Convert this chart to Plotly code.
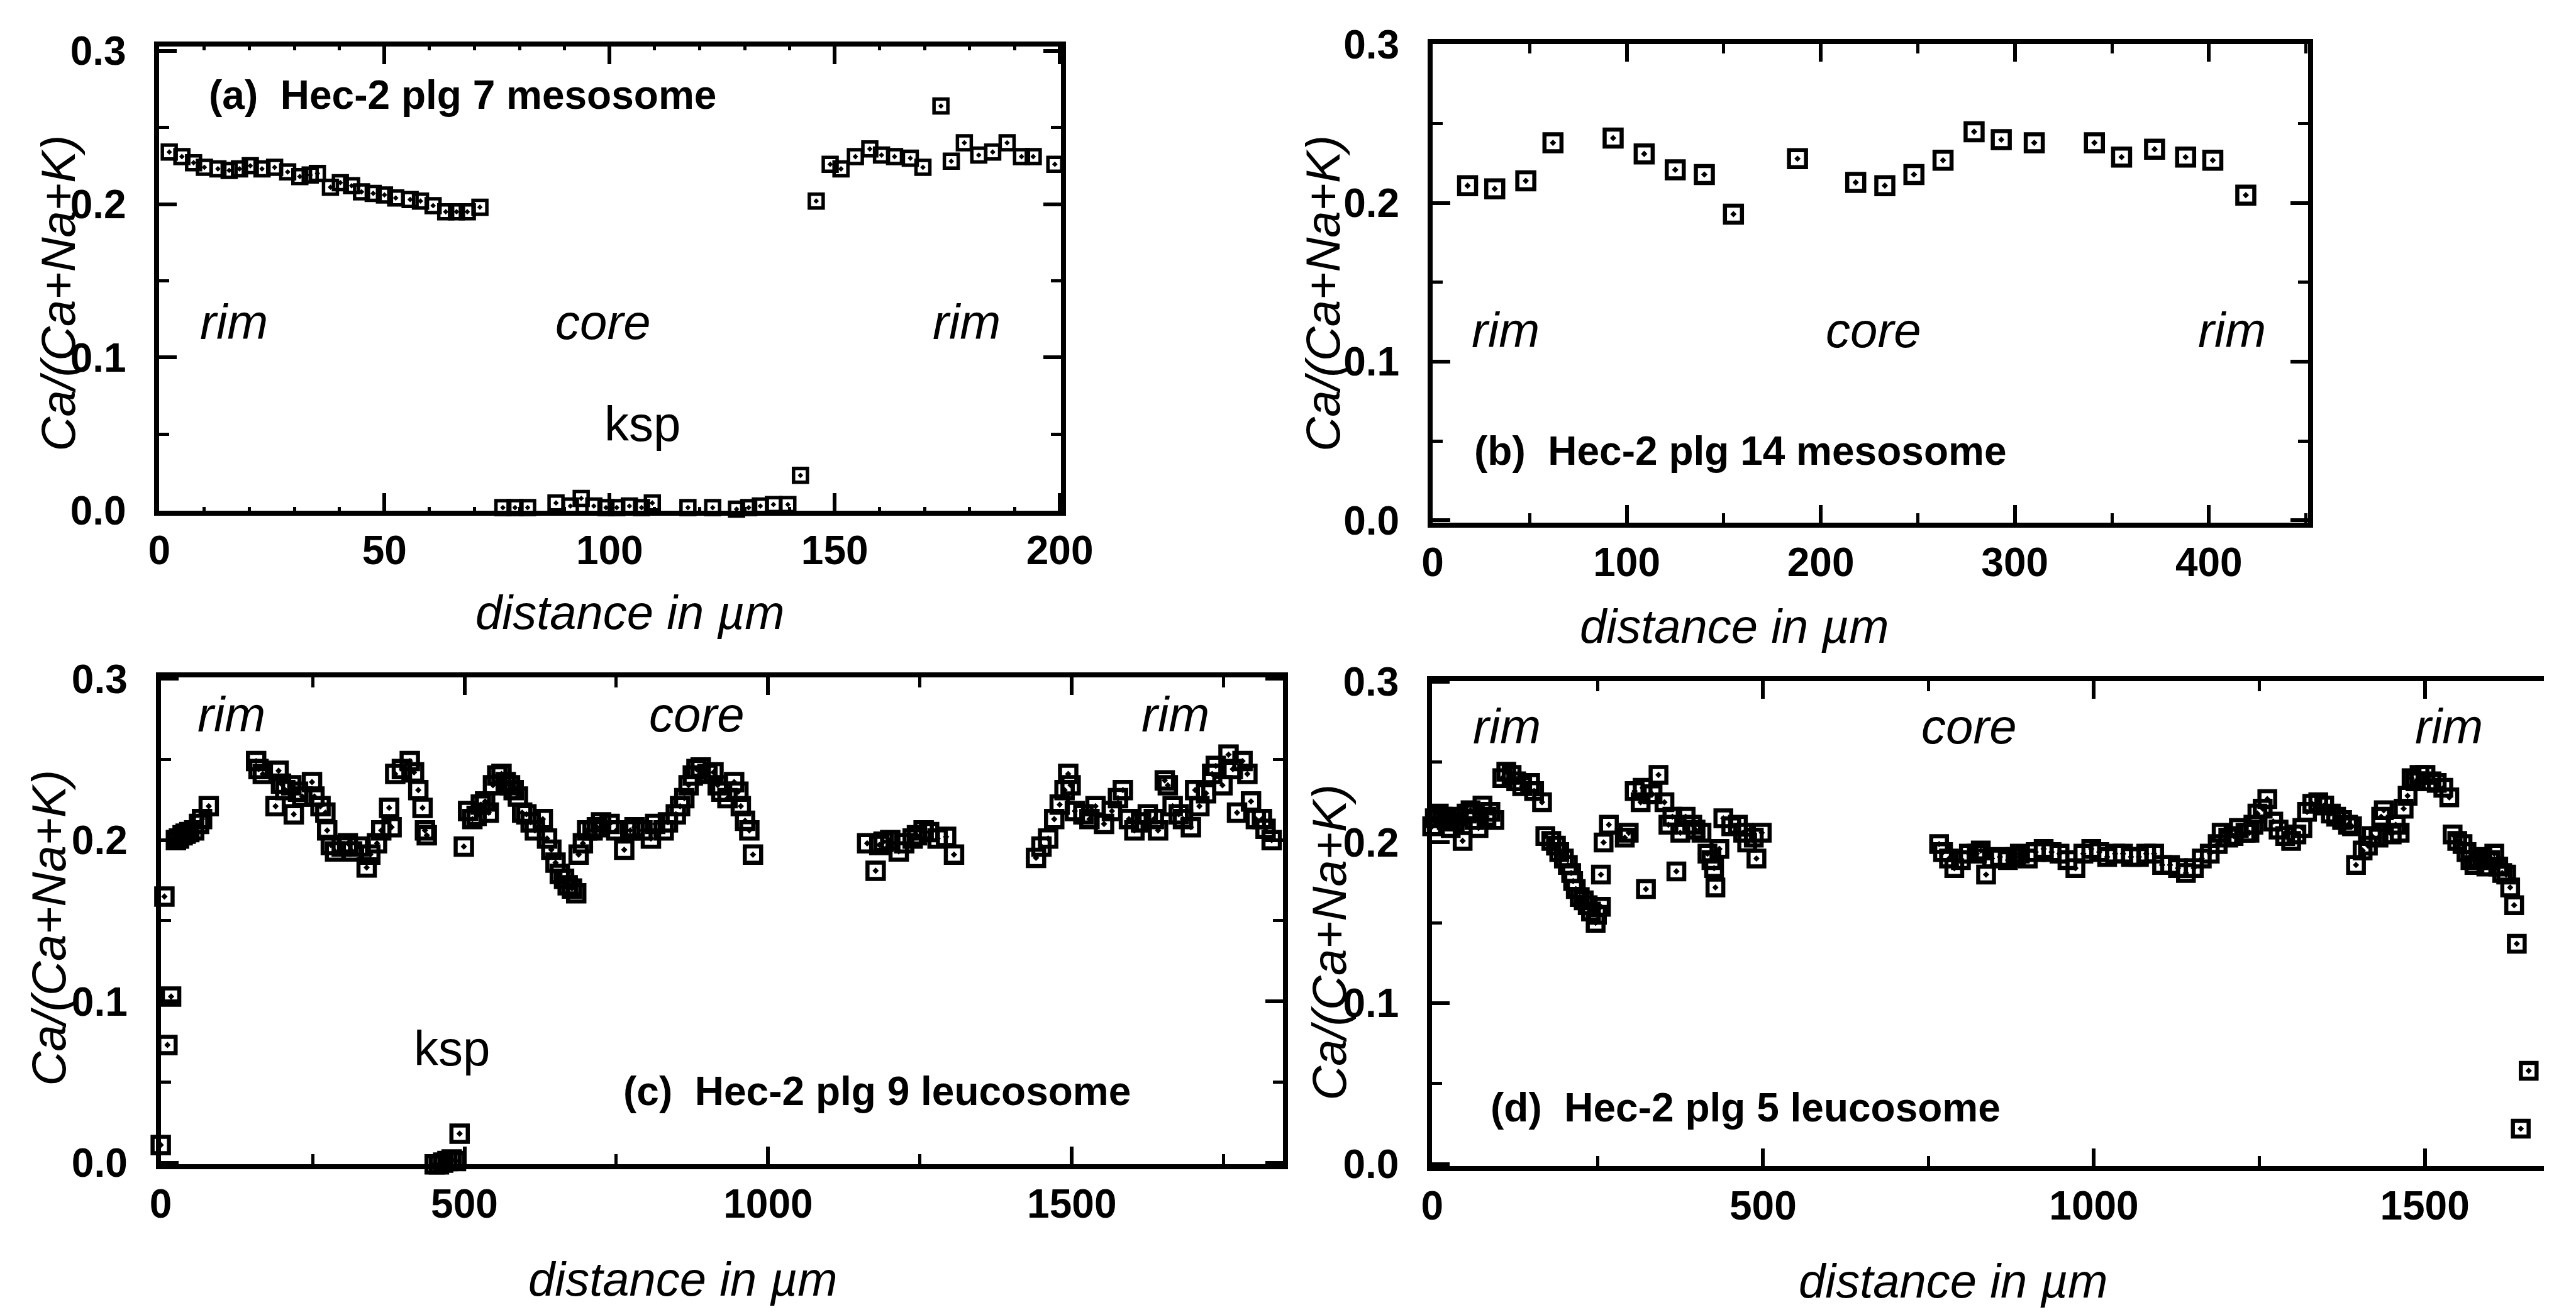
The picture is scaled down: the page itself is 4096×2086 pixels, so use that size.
import plotly.graph_objects as go

# ---------------------------------------------------------------------------
# Plagioclase profiles: Ca/(Ca+Na+K) versus distance (µm)
# ---------------------------------------------------------------------------

# (a) Hec-2 plg 7 mesosome
dist_a = [2.2, 5.0, 7.6, 10.0, 13.0, 15.5, 17.8, 20.2, 22.8, 25.6, 28.5, 31.2, 33.5, 35.1,
          38.0, 40.2, 42.7, 44.9, 47.5, 50.0, 52.5, 55.7, 58.0, 60.8, 63.6, 66.0, 68.4, 71.2,
          76.3, 79.0, 81.8, 85.0, 88.1, 91.3, 93.7, 96.5, 99.2, 101.6, 104.4, 107.1, 109.5,
          111.9, 114.2, 117.4, 120.3, 122.9, 125.3, 128.2, 130.9, 133.5, 136.4, 139.6, 142.4,
          145.9, 149.0, 151.4, 154.6, 157.8, 160.4, 163.3, 166.8, 169.6, 173.6, 175.9, 178.8,
          182.0, 185.1, 188.3, 191.5, 194.1, 198.9]
ratio_a = [0.234, 0.231, 0.227, 0.224, 0.223, 0.222, 0.223, 0.225, 0.223, 0.224, 0.221, 0.218,
           0.219, 0.220, 0.211, 0.214, 0.212, 0.208, 0.207, 0.206, 0.204, 0.203, 0.202, 0.199,
           0.195, 0.195, 0.195, 0.198,
           0.002, 0.002, 0.002, -0.001, 0.005, 0.003, 0.008, 0.003, 0.002, 0.002, 0.003, 0.002,
           0.005, -0.001, -0.001, 0.002, -0.001, 0.002, -0.001, 0.001, 0.002, 0.003, 0.004,
           0.004, 0.023,
           0.202, 0.226, 0.223, 0.231, 0.236, 0.232, 0.231, 0.230, 0.224, 0.264, 0.228, 0.240,
           0.232, 0.234, 0.240, 0.231, 0.231, 0.226]

# (b) Hec-2 plg 14 mesosome
dist_b = [18, 32, 48, 62, 93, 109, 125, 140, 155, 188, 218, 233, 248, 263, 279, 293, 310,
          341, 355, 372, 388, 402, 419]
ratio_b = [0.211, 0.209, 0.214, 0.238, 0.241, 0.231, 0.221, 0.218, 0.193, 0.228, 0.213,
           0.211, 0.218, 0.227, 0.245, 0.240, 0.238, 0.238, 0.229, 0.234, 0.229, 0.227, 0.205]

# (c) Hec-2 plg 9 leucosome
dist_c = [0, 6, 11, 17, 25, 30, 36, 41, 47, 55, 63, 68, 79,
          157, 161, 168, 189, 194, 198, 205, 215, 219, 226, 233, 249, 253, 263, 271, 274, 280,
          287, 298, 308, 315, 326, 339, 345, 356, 363, 376, 380, 386, 397, 410, 417, 424, 431,
          435, 438,
          440, 445, 451, 458, 465, 472, 479, 486, 492,
          499, 506, 513, 520, 527, 534, 540, 547, 554, 561, 568, 575, 581, 588, 595, 602, 609,
          616, 629, 636, 643, 650, 657, 664, 670, 677, 684, 688, 695, 702, 711, 718, 725, 739,
          750, 763, 773, 780, 793, 807, 814, 828, 835, 848, 855, 862, 869, 876, 882, 889, 900,
          910, 917, 923, 933, 944, 951, 955, 962, 969, 975,
          1163, 1177, 1183, 1190, 1201, 1215, 1224, 1238, 1245, 1256, 1265, 1279, 1293, 1306,
          1441, 1450, 1461, 1471, 1480, 1488, 1494, 1498, 1505, 1519, 1529, 1539, 1553, 1566,
          1576, 1584, 1594, 1603, 1614, 1625, 1635, 1642, 1653, 1658, 1666, 1676, 1683, 1696,
          1703, 1710, 1721, 1731, 1737, 1748, 1758, 1765, 1772, 1781, 1789, 1795, 1803, 1813,
          1819, 1829]
ratio_c = [0.011, 0.165, 0.073, 0.103, 0.200, 0.201, 0.203, 0.204, 0.205, 0.206, 0.210, 0.213,
           0.221,
           0.249, 0.244, 0.241, 0.221, 0.243, 0.235, 0.231, 0.234, 0.216, 0.230, 0.227, 0.236,
           0.227, 0.221, 0.217, 0.206, 0.197, 0.193, 0.196, 0.198, 0.193, 0.196, 0.183, 0.191,
           0.198, 0.206, 0.220, 0.208, 0.241, 0.244, 0.249, 0.242, 0.231, 0.220, 0.206, 0.203,
           -0.002, -0.002, -0.001, -0.001, 0.000, 0.001, 0.002, 0.001, 0.018,
           0.196, 0.218, 0.213, 0.215, 0.222, 0.224, 0.217, 0.234, 0.240, 0.241, 0.236, 0.234,
           0.231, 0.227, 0.217, 0.216, 0.211, 0.206, 0.213, 0.201, 0.194, 0.186, 0.179, 0.176,
           0.172, 0.170, 0.167, 0.191, 0.198, 0.206, 0.206, 0.208, 0.211, 0.210, 0.206, 0.194,
           0.206, 0.208, 0.206, 0.201, 0.210, 0.206, 0.211, 0.216, 0.221, 0.226, 0.234, 0.240,
           0.244, 0.245, 0.241, 0.242, 0.234, 0.230, 0.226, 0.236, 0.230, 0.221, 0.212, 0.206,
           0.191,
           0.198, 0.181, 0.197, 0.199, 0.200, 0.193, 0.198, 0.201, 0.203, 0.206, 0.205, 0.201,
           0.202, 0.191,
           0.189, 0.196, 0.201, 0.213, 0.222, 0.231, 0.241, 0.234, 0.218, 0.216, 0.213, 0.221,
           0.210, 0.218, 0.226, 0.231, 0.213, 0.206, 0.211, 0.216, 0.213, 0.206, 0.237, 0.234,
           0.221, 0.216, 0.213, 0.208, 0.231, 0.221, 0.229, 0.241, 0.246, 0.234, 0.253, 0.244,
           0.217, 0.249, 0.241, 0.224, 0.213, 0.213, 0.207, 0.200]

# (d) Hec-2 plg 5 leucosome
dist_d = [0, 4, 10, 16, 22, 28, 34, 40, 46, 52, 58, 64, 70, 76, 82, 88, 94,
          106, 112, 120, 127, 136, 148, 154, 166,
          171, 180, 187, 192, 199, 205, 210, 213, 217, 223, 229, 235, 240, 247, 249, 255, 255,
          259, 267, 291, 297,
          306, 315, 318, 323, 333, 342, 351, 357, 363, 369, 375, 383,
          393, 398, 407, 416, 422, 426, 428, 434, 440, 452, 462, 470, 476, 486, 490, 498,
          766, 772, 781, 789, 799, 811, 823, 829, 837, 846, 858, 870, 882, 888, 900, 912, 924,
          936, 948, 960, 972, 984, 996, 1008, 1020, 1032, 1044, 1056, 1068, 1079, 1091, 1103,
          1115, 1127, 1139, 1151, 1163, 1175,
          1187, 1193, 1203, 1211, 1219, 1229, 1235, 1241, 1247, 1255, 1262, 1271, 1279, 1289,
          1298, 1306, 1315, 1322, 1330, 1339, 1348, 1358, 1366, 1375, 1384, 1390, 1396, 1406,
          1414, 1420, 1430, 1434, 1438, 1450, 1456, 1462, 1468, 1474, 1480, 1486, 1492, 1501,
          1510, 1518, 1528, 1537,
          1542, 1549, 1557, 1563, 1569, 1575, 1581, 1587, 1593, 1599, 1605, 1611, 1617, 1623,
          1629, 1635, 1639, 1645, 1657]
ratio_d = [0.210, 0.215, 0.218, 0.216, 0.214, 0.209, 0.213, 0.216, 0.201, 0.218, 0.220, 0.214,
           0.209, 0.223, 0.216, 0.219, 0.214,
           0.240, 0.244, 0.242, 0.238, 0.235, 0.237, 0.232, 0.225,
           0.204, 0.201, 0.198, 0.194, 0.190, 0.186, 0.181, 0.176, 0.171, 0.166, 0.164, 0.161,
           0.157, 0.150, 0.155, 0.160, 0.180, 0.200, 0.211, 0.203, 0.206,
           0.232, 0.225, 0.234, 0.171, 0.230, 0.242, 0.225, 0.211, 0.216, 0.182, 0.206, 0.216,
           0.211, 0.208, 0.206, 0.193, 0.189, 0.184, 0.172, 0.196, 0.215, 0.210, 0.211, 0.206,
           0.200, 0.203, 0.190, 0.206,
           0.199, 0.194, 0.190, 0.184, 0.189, 0.193, 0.193, 0.195, 0.180, 0.190, 0.191, 0.189,
           0.191, 0.193, 0.190, 0.194, 0.196, 0.194, 0.193, 0.189, 0.184, 0.193, 0.196, 0.194,
           0.191, 0.193, 0.193, 0.191, 0.191, 0.193, 0.193, 0.186, 0.186, 0.184, 0.181, 0.184,
           0.190, 0.193,
           0.199, 0.206, 0.203, 0.204, 0.209, 0.206, 0.206, 0.211, 0.218, 0.221, 0.227, 0.213,
           0.208, 0.204, 0.201, 0.205, 0.209, 0.219, 0.224, 0.225, 0.223, 0.218, 0.216, 0.214,
           0.211, 0.210, 0.186, 0.195, 0.198, 0.204, 0.203, 0.216, 0.220, 0.205, 0.211, 0.206,
           0.221, 0.229, 0.240, 0.238, 0.242, 0.242, 0.238, 0.237, 0.234, 0.228,
           0.205, 0.201, 0.199, 0.194, 0.189, 0.186, 0.189, 0.191, 0.185, 0.189, 0.193, 0.185,
           0.181, 0.180, 0.172, 0.161, 0.137, 0.022, 0.058]

panel_titles = ["(a)\u00a0\u00a0Hec-2 plg 7 mesosome", "(b)\u00a0\u00a0Hec-2 plg 14 mesosome",
                "(c)\u00a0\u00a0Hec-2 plg 9 leucosome", "(d)\u00a0\u00a0Hec-2 plg 5 leucosome"]
y_title = "Ca/(Ca+Na+K)"
x_title = "distance in µm"

# ---------------------------------------------------------------------------
# Page geometry (layout designed on a 5440 x 2770 grid, rendered at 4096 x 2086)
# ---------------------------------------------------------------------------
W, H = 4096, 2086
GW, GH = 5440.0, 2770.0


def gx(v):
    return v / GW


def gy(v):
    return 1.0 - v / GH


# plot-area boxes on the design grid: left, right, top, bottom
boxes = {
    "a": (318, 2255, 53, 1068),
    "b": (3053, 4933, 48, 1094),
    "c": (321, 2732, 1432, 2497),
    "d": (3052, 5440, 1440, 2501),
}

SANS = "Liberation Sans, Arial, Helvetica, sans-serif"
INK = "black"

fig = go.Figure()

series = [
    ("a", dist_a, ratio_a, 22, 5.5),
    ("b", dist_b, ratio_b, 27, 6.5),
    ("c", dist_c, ratio_c, 26, 6.5),
    ("d", dist_d, ratio_d, 25, 6.5),
]
for i, (key, xs, ys, msize, mline) in enumerate(series):
    suffix = "" if i == 0 else str(i + 1)
    fig.add_trace(go.Scatter(
        x=xs, y=ys, mode="markers", cliponaxis=False, showlegend=False,
        xaxis="x" + suffix, yaxis="y" + suffix,
        marker=dict(symbol="square-open-dot", size=msize, color=INK,
                    line=dict(width=mline, color=INK)),
    ))

x_ranges = {"a": [0, 200.3], "b": [0, 451], "c": [0, 1848], "d": [0, 1680]}
y_ranges = {"a": [0, 0.303], "b": [-0.0014, 0.3003], "c": [-0.0011, 0.301], "d": [-0.0014, 0.3005]}
x_dticks = {"a": (50, 10, 6), "b": (100, 50, 15), "c": (500, 250, 16), "d": (500, 250, 16)}

tick_font = dict(family=SANS, size=64, color=INK, weight="bold")

for i, key in enumerate(["a", "b", "c", "d"]):
    l, r, t, b = boxes[key]
    suffix = "" if i == 0 else str(i + 1)
    major, minor, minor_len = x_dticks[key]
    fig.layout["xaxis" + suffix] = dict(
        domain=[gx(l), min(gx(r), 1.0)], range=x_ranges[key], anchor="y" + suffix,
        tickmode="linear", tick0=0, dtick=major,
        showline=True, linewidth=8, linecolor=INK, mirror="ticks",
        ticks="inside", ticklen=28, tickwidth=6, tickcolor=INK,
        minor=dict(ticks="inside", tick0=0, dtick=minor, ticklen=minor_len,
                   tickwidth=5, tickcolor=INK, showgrid=False),
        showgrid=False, zeroline=False, tickfont=tick_font, ticklabelstandoff=0,
    )
    fig.layout["yaxis" + suffix] = dict(
        domain=[gy(b), gy(t)], range=y_ranges[key], anchor="x" + suffix,
        tickmode="linear", tick0=0, dtick=0.1, tickformat=".1f",
        showline=True, linewidth=8, linecolor=INK,
        mirror=False if key == "d" else "ticks",
        ticks="inside", ticklen=28, tickwidth=6, tickcolor=INK,
        minor=dict(ticks="inside", tick0=0, dtick=0.05, ticklen=16,
                   tickwidth=5, tickcolor=INK, showgrid=False),
        showgrid=False, zeroline=False, tickfont=tick_font, ticklabelstandoff=32,
    )

annotations = []


def note(text, x, y, size, weight="normal", style="normal", angle=0, xanchor="center"):
    annotations.append(dict(
        text=text, x=gx(x), y=gy(y), xref="paper", yref="paper",
        xanchor=xanchor, yanchor="middle", showarrow=False, textangle=angle,
        font=dict(family=SANS, size=size, color=INK, weight=weight, style=style),
    ))


# panel labels
note(panel_titles[0], 421, 160, 64, weight="bold", xanchor="left")
note(panel_titles[1], 3140, 937, 64, weight="bold", xanchor="left")
note(panel_titles[2], 1312, 2337, 64, weight="bold", xanchor="left")
note(panel_titles[3], 3174, 2373, 64, weight="bold", xanchor="left")

# zoning markers
for (x, y, txt) in [(478, 656, "rim"), (1271, 656, "core"), (2052, 656, "rim"),
                    (3210, 674, "rim"), (4000, 674, "core"), (4770, 674, "rim"),
                    (473, 1513, "rim"), (1473, 1513, "core"), (2500, 1513, "rim"),
                    (3213, 1540, "rim"), (4205, 1540, "core"), (5236, 1540, "rim")]:
    note(txt, x, y, 78, style="italic")
note("ksp", 1355, 879, 78)
note("ksp", 946, 2244, 78)

# axis titles
for (x, y) in [(100, 593), (2817, 593), (80, 1980), (2831, 2011)]:
    note(y_title, x, y, 76, style="italic", angle=-90)
for (x, y) in [(1329, 1290), (3701, 1321), (1443, 2748), (4171, 2752)]:
    note(x_title, x, y, 76, style="italic")

fig.update_layout(
    width=W, height=H, margin=dict(l=0, r=0, t=0, b=0),
    paper_bgcolor="white", plot_bgcolor="white",
    annotations=annotations, showlegend=False,
)

fig.write_html("out.html")
